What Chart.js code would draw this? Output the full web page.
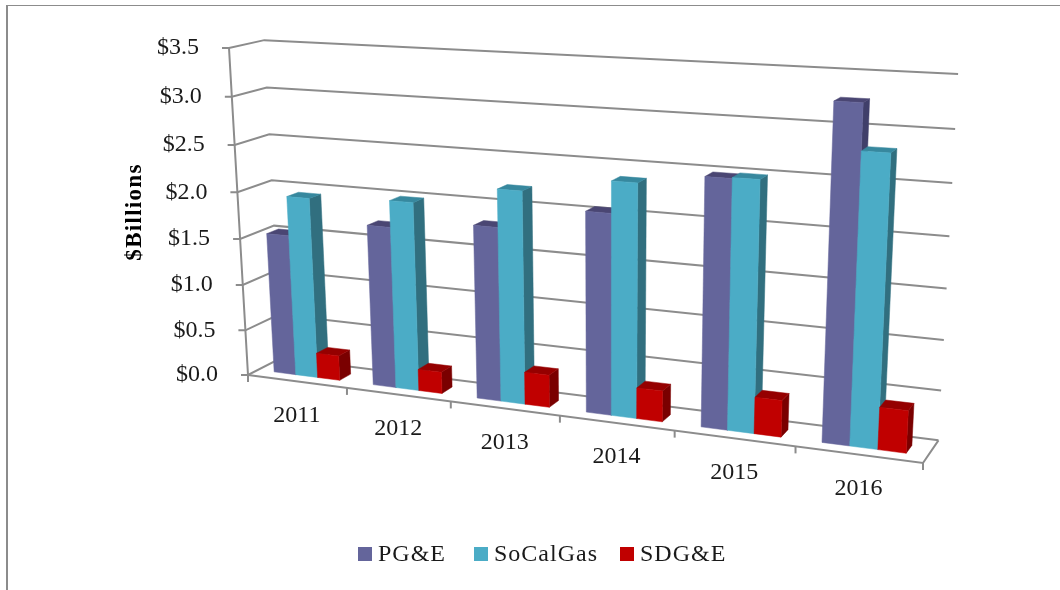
<!DOCTYPE html>
<html>
<head>
<meta charset="utf-8">
<style>
  html, body { margin: 0; padding: 0; background: #fff; }
  canvas { display: block; }
</style>
</head>
<body>
<canvas id="gasChart" width="1060" height="590"></canvas>
<script src="https://cdn.jsdelivr.net/npm/chart.js@4"></script>
<script>
const years = ["2011", "2012", "2013", "2014", "2015", "2016"];
const pge = [1.53, 1.72, 1.82, 2.06, 2.49, 3.27];
const soCalGas = [1.95, 2.0, 2.21, 2.38, 2.5, 2.83];
const sdge = [0.27, 0.23, 0.34, 0.32, 0.37, 0.42];

const FONT = '"Liberation Serif", serif';
const GRID = "#8c8c8c";

// Corners of the 3d box on screen, u = along years, v = depth, w = value
const P0 = [248, 375], PU = [923, 463], PV = [281, 358], PW = [229, 48];
const A = -0.141, B = 0.03, C = -0.05;
const BAR_FRONT = 0.3, BAR_BACK = 0.65;

function project(u, v, w) {
  const d = 1 + A * u + B * v + C * w;
  return [0, 1].map(function (i) {
    return (P0[i] * (1 - u - v - w) + u * (1 + A) * PU[i] + v * (1 + B) * PV[i] + w * (1 + C) * PW[i]) / d;
  });
}

function poly(ctx, pts) {
  ctx.beginPath();
  pts.forEach(function (p, i) {
    if (i === 0) ctx.moveTo(p[0], p[1]);
    else ctx.lineTo(p[0], p[1]);
  });
}

function fillFace(ctx, pts, color) {
  poly(ctx, pts);
  ctx.closePath();
  ctx.fillStyle = color;
  ctx.strokeStyle = color;
  ctx.lineWidth = 0.5;
  ctx.fill();
  ctx.stroke();
}

function drawGrid(chart) {
  const ctx = chart.ctx;
  const yScale = chart.scales.y;
  const area = chart.chartArea;
  ctx.strokeStyle = GRID;
  ctx.lineWidth = 2;
  yScale.ticks.forEach(function (t) {
    const w = (area.bottom - yScale.getPixelForValue(t.value)) / area.height;
    const front = project(0, 0, w);
    poly(ctx, [[front[0] - 7, front[1]], front, project(0, 1, w), project(1, 1, w)]);
    ctx.stroke();
  });
  // left axis and floor edges
  const bottom = project(0, 0, 0);
  poly(ctx, [project(0, 0, 1), bottom, [bottom[0], bottom[1] + 7]]);
  ctx.stroke();
  poly(ctx, [bottom, project(1, 0, 0), project(1, 1, 0)]);
  ctx.stroke();
  years.forEach(function (y, i) {
    const p = project((i + 1) / years.length, 0, 0);
    poly(ctx, [p, [p[0], p[1] + 7]]);
    ctx.stroke();
  });
}

function drawBars(chart) {
  const ctx = chart.ctx;
  const area = chart.chartArea;
  years.forEach(function (y, i) {
    chart.data.datasets.forEach(function (ds, d) {
      const bar = chart.getDatasetMeta(d).data[i];
      const u0 = (bar.x - bar.width / 2 - area.left) / area.width;
      const u1 = (bar.x + bar.width / 2 - area.left) / area.width;
      const w = (area.bottom - bar.y) / area.height;
      fillFace(ctx, [project(u1, BAR_FRONT, 0), project(u1, BAR_BACK, 0), project(u1, BAR_BACK, w), project(u1, BAR_FRONT, w)], ds.sideColor);
      fillFace(ctx, [project(u0, BAR_FRONT, w), project(u1, BAR_FRONT, w), project(u1, BAR_BACK, w), project(u0, BAR_BACK, w)], ds.topColor);
      fillFace(ctx, [project(u0, BAR_FRONT, 0), project(u1, BAR_FRONT, 0), project(u1, BAR_FRONT, w), project(u0, BAR_FRONT, w)], ds.backgroundColor);
    });
  });
}

function drawLabels(chart) {
  const ctx = chart.ctx;
  const yScale = chart.scales.y;
  const area = chart.chartArea;
  ctx.fillStyle = "#1a1a1a";
  ctx.font = "24px " + FONT;
  ctx.textBaseline = "middle";
  ctx.textAlign = "right";
  yScale.ticks.forEach(function (t) {
    const w = (area.bottom - yScale.getPixelForValue(t.value)) / area.height;
    const p = project(0, 0, w);
    ctx.fillText(t.label, p[0] - 30, p[1]);
  });
  ctx.textAlign = "center";
  years.forEach(function (y, i) {
    const p = project((i + 0.5) / years.length, 0, 0);
    ctx.fillText(y, p[0], p[1] + 34);
  });
  // axis title
  ctx.save();
  ctx.translate(135, 212);
  ctx.rotate(-Math.PI / 2);
  ctx.font = "bold 23px " + FONT;
  ctx.fillStyle = "#000";
  ctx.letterSpacing = "1.3px";
  ctx.fillText("$Billions", 0, 0);
  ctx.restore();
  ctx.letterSpacing = "0px";
}

// Legend squares sit closer to their text than the built in legend allows
function drawLegend(chart) {
  const ctx = chart.ctx;
  const legendX = [358, 474, 620];
  ctx.font = "24px " + FONT;
  ctx.letterSpacing = "1px";
  ctx.textAlign = "left";
  ctx.textBaseline = "middle";
  chart.data.datasets.forEach(function (ds, i) {
    ctx.fillStyle = ds.backgroundColor;
    ctx.fillRect(legendX[i], 547, 14, 14);
    ctx.fillStyle = "#1a1a1a";
    ctx.fillText(ds.label, legendX[i] + 20, 555);
  });
  ctx.letterSpacing = "0px";
}

const perspectivePlugin = {
  id: "perspective",
  beforeDatasetsDraw: function (chart) {
    const ctx = chart.ctx;
    ctx.save();
    ctx.fillStyle = GRID;
    ctx.fillRect(6, 5, 1054, 1);
    ctx.fillRect(6, 5, 2, 585);
    drawGrid(chart);
    drawBars(chart);
    drawLabels(chart);
    drawLegend(chart);
    ctx.restore();
    return false;
  },
};

const gasData = {
  labels: years,
  datasets: [
    { label: "PG&E", data: pge, backgroundColor: "#64659b", topColor: "#4a4673", sideColor: "#403f6a" },
    { label: "SoCalGas", data: soCalGas, backgroundColor: "#4bacc6", topColor: "#37889e", sideColor: "#316f7f" },
    { label: "SDG&E", data: sdge, backgroundColor: "#c00000", topColor: "#950000", sideColor: "#7a0000" },
  ],
};

const gasConfig = {
  type: "bar",
  data: gasData,
  plugins: [perspectivePlugin],
  options: {
    responsive: false,
    animation: false,
    categoryPercentage: 0.667,
    barPercentage: 1,
    plugins: {
      legend: { display: false },
      tooltip: { enabled: false },
    },
    scales: {
      x: { display: false },
      y: {
        display: false,
        min: 0,
        max: 3.5,
        ticks: {
          stepSize: 0.5,
          callback: function (value) {
            return "$" + value.toFixed(1);
          },
        },
      },
    },
  },
};
var gasChart = new Chart(document.getElementById("gasChart"), gasConfig);
</script>
</body>
</html>
